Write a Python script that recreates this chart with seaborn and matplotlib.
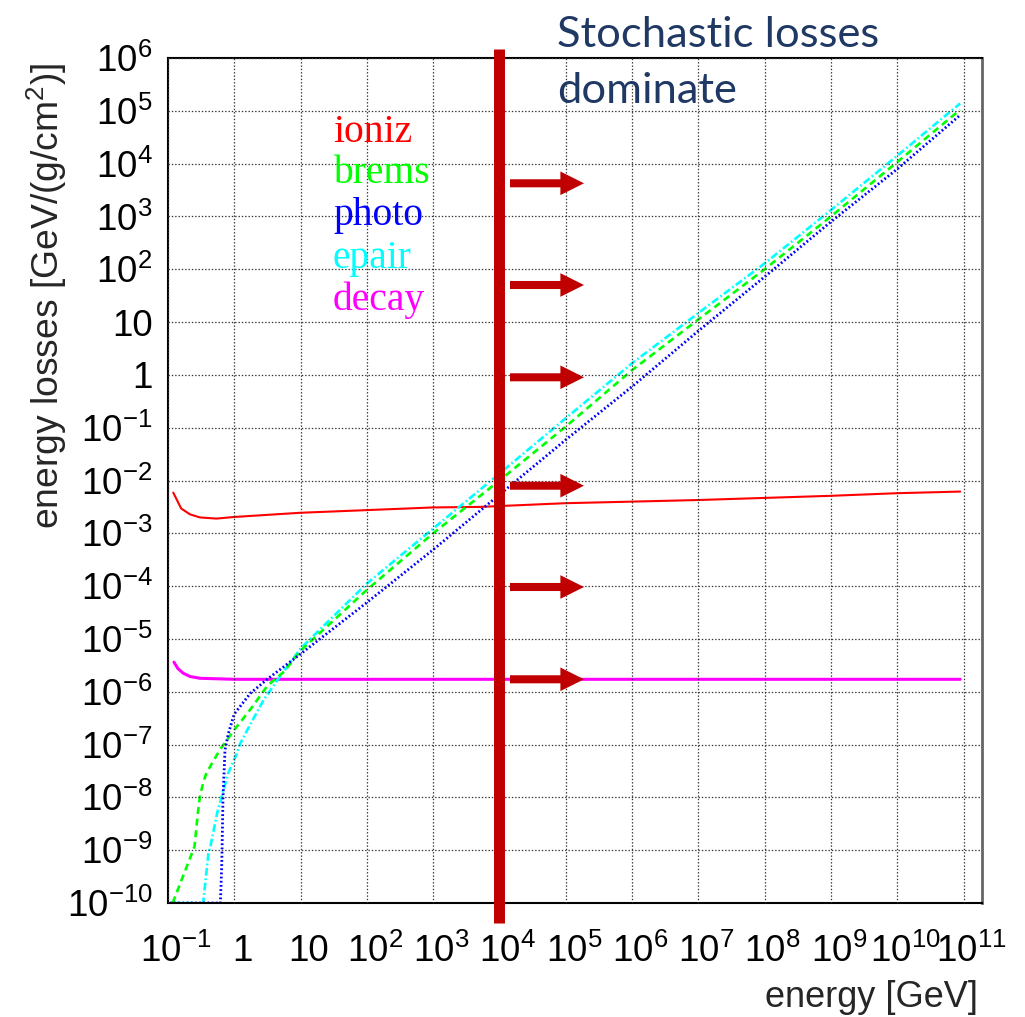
import matplotlib
matplotlib.use("Agg")
import matplotlib.pyplot as plt
import matplotlib.transforms as mtransforms
from matplotlib.ticker import FixedLocator, FixedFormatter, LogLocator, NullFormatter
import seaborn as sns
import pandas as pd

# ---------------- data ----------------
ioniz_energy = [0.12, 0.158, 0.214, 0.302, 0.537, 1, 10, 100, 1e3, 5e3, 1e5, 1e6, 1e7, 1e8, 1e9, 1e10, 8.9e10]
ioniz_loss = [5.9e-3, 2.95e-3, 2.29e-3, 2.0e-3, 1.9e-3, 2.04e-3, 2.45e-3, 2.75e-3, 3.09e-3, 3.16e-3,
              3.72e-3, 3.98e-3, 4.27e-3, 4.68e-3, 5.13e-3, 5.75e-3, 6.17e-3]

brems_energy = [0.1175, 0.251, 0.282, 0.302, 0.339, 0.38, 0.603, 1, 1.74, 3.16, 5.62, 10, 100, 1e3, 1e4,
                1e5, 1e6, 1e7, 1e8, 1e9, 1e10, 8.9e10]
brems_loss = [1e-10, 1.17e-9, 5.0e-9, 1.02e-8, 1.9e-8, 2.9e-8, 7.9e-8, 1.9e-7, 4.6e-7, 1.3e-6, 2.4e-6,
              6.0e-6, 8.5e-5, 1e-3, 1e-2, 0.105, 1.23, 11.2, 100, 1000, 1.07e4, 1.05e5]

photo_energy = [0.107, 0.617, 0.646, 0.676, 0.724, 0.813, 1, 1.74, 3.16, 5.62, 10, 100, 1e3, 1e4, 1e5,
                1e6, 1e7, 1e8, 1e9, 1e10, 8.9e10]
photo_loss = [1e-10, 1e-10, 5e-10, 1e-8, 7.9e-8, 1.62e-7, 3.8e-7, 9.3e-7, 1.74e-6, 3.0e-6, 5.2e-6, 4.9e-5,
              4.9e-4, 5.4e-3, 5.9e-2, 0.60, 6.8, 72, 794, 7.9e3, 8.3e4]

epair_energy = [0.112, 0.339, 0.407, 0.436, 0.55, 0.813, 1.1, 1.23, 1.74, 2.75, 4.47, 10, 100, 1e3, 1e4,
                1e5, 1e6, 1e7, 1e8, 1e9, 1e10, 8.9e10]
epair_loss = [1e-10, 1e-10, 8.7e-10, 1.17e-9, 5.0e-9, 2.9e-8, 6.9e-8, 1.05e-7, 2.4e-7, 6.9e-7, 1.66e-6,
              6.6e-6, 1.12e-4, 1.23e-3, 1.35e-2, 0.151, 1.66, 14.8, 129, 1.32e3, 1.41e4, 1.38e5]

decay_energy = [0.123, 0.141, 0.17, 0.214, 0.302, 1, 1e3, 1e6, 1e9, 8.9e10]
decay_loss = [3.63e-6, 2.75e-6, 2.24e-6, 1.95e-6, 1.80e-6, 1.72e-6, 1.72e-6, 1.72e-6, 1.72e-6, 1.72e-6]

series_names = ["ioniz", "brems", "photo", "epair", "decay"]
series_colors = ["#ff0000", "#00ff00", "#0000ff", "#00ffff", "#ff00ff"]

x_ticks = [1e-1, 1, 10, 1e2, 1e3, 1e4, 1e5, 1e6, 1e7, 1e8, 1e9, 1e10, 1e11]
x_tick_labels = [r"$10^{-1}$", "1", "10", r"$10^{2}$", r"$10^{3}$", r"$10^{4}$", r"$10^{5}$",
                 r"$10^{6}$", r"$10^{7}$", r"$10^{8}$", r"$10^{9}$", r"$10^{10}$", r"$10^{11}$"]
y_ticks = [1e-10, 1e-9, 1e-8, 1e-7, 1e-6, 1e-5, 1e-4, 1e-3, 1e-2, 1e-1, 1, 10, 1e2, 1e3, 1e4, 1e5, 1e6]
y_tick_labels = [r"$10^{-10}$", r"$10^{-9}$", r"$10^{-8}$", r"$10^{-7}$", r"$10^{-6}$", r"$10^{-5}$",
                 r"$10^{-4}$", r"$10^{-3}$", r"$10^{-2}$", r"$10^{-1}$", "1", "10", r"$10^{2}$",
                 r"$10^{3}$", r"$10^{4}$", r"$10^{5}$", r"$10^{6}$"]

x_label = "energy [GeV]"
y_label = r"energy losses [GeV/(g/cm$^{2}$)]"
note_lines = ["Stochastic losses", "dominate"]
separator_energy = 1e4

# ---------------- style ----------------
sns.set_style("white")
plt.rcParams.update({
    "font.family": ["Liberation Sans", "DejaVu Sans"],
    "mathtext.fontset": "custom",
    "mathtext.rm": "Liberation Sans",
    "mathtext.it": "Liberation Sans:italic",
    "mathtext.bf": "Liberation Sans:bold",
    "mathtext.default": "regular",
    "lines.scale_dashes": False,
    "axes.unicode_minus": False,
})

W, H = 1025, 1017
fig = plt.figure(figsize=(W / 100, H / 100), dpi=100)
L, R, T, B = 168, 982, 58, 903
ax = fig.add_axes([L / W, 1 - B / H, (R - L) / W, (B - T) / H])

frames = {
    "ioniz": (ioniz_energy, ioniz_loss),
    "brems": (brems_energy, brems_loss),
    "photo": (photo_energy, photo_loss),
    "epair": (epair_energy, epair_loss),
    "decay": (decay_energy, decay_loss),
}
styles = {
    "ioniz": dict(lw=1.5, linestyle="-"),
    "brems": dict(lw=1.9, linestyle=(0, (5.0, 3.4))),
    "photo": dict(lw=2.0, linestyle=(0, (1.3, 1.7))),
    "epair": dict(lw=1.9, linestyle=(0, (5.5, 2.0, 1.2, 2.0))),
    "decay": dict(lw=2.2, linestyle="-"),
}
draw_order = ["ioniz", "decay", "epair", "brems", "photo"]
for name in draw_order:
    e, v = frames[name]
    df = pd.DataFrame({"energy": e, "loss": v})
    color = series_colors[series_names.index(name)]
    sns.lineplot(data=df, x="energy", y="loss", ax=ax, color=color, sort=False,
                 estimator=None, **styles[name])

ax.set_xscale("log")
ax.set_yscale("log")
ax.set_xlim(0.1, 1.9e11)
ax.set_ylim(1e-10, 1e6)

ax.xaxis.set_major_locator(FixedLocator(x_ticks))
ax.xaxis.set_major_formatter(FixedFormatter(x_tick_labels))
ax.yaxis.set_major_locator(FixedLocator(y_ticks))
ax.yaxis.set_major_formatter(FixedFormatter(y_tick_labels))
ax.xaxis.set_minor_locator(LogLocator(base=10, subs=range(2, 10), numticks=100))
ax.yaxis.set_minor_locator(LogLocator(base=10, subs=range(2, 10), numticks=100))
ax.xaxis.set_minor_formatter(NullFormatter())
ax.yaxis.set_minor_formatter(NullFormatter())

ax.tick_params(which="both", direction="in", top=False, right=False, width=1.1, colors="black")
ax.tick_params(which="major", length=9.5)
ax.tick_params(which="minor", length=5)
ax.tick_params(axis="x", which="major", labelsize=26.5, pad=22)
ax.tick_params(axis="y", which="major", labelsize=26.5, pad=11)

ax.grid(True, which="major", color="#333333", lw=0.9, linestyle=(0, (1.0, 1.4)))
ax.set_axisbelow(False)
for s in ["left", "bottom", "top"]:
    ax.spines[s].set_linewidth(1.5)
    ax.spines[s].set_color("black")
ax.spines["right"].set_linewidth(2.0)
ax.spines["right"].set_color("#666666")

# shift x tick labels slightly right (ROOT-like placement)
offset = mtransforms.ScaledTranslation(8 / 100, 0, fig.dpi_scale_trans)
for lab in ax.get_xticklabels():
    lab.set_transform(lab.get_transform() + offset)

ax.set_xlabel(x_label, loc="right", fontsize=26)
ax.xaxis.set_label_coords(0.995, -0.091)
ax.set_ylabel(y_label, loc="top", fontsize=26.8)
ax.yaxis.set_label_coords(-0.1216, 0.995)

# legend: coloured names only
legend_baselines = [142, 183, 225, 268, 310]
for name, yb in zip(series_names, legend_baselines):
    fig.text(333 / W, 1 - yb / H, name, color=series_colors[series_names.index(name)],
             fontsize=28.5, family=["Liberation Serif", "DejaVu Serif"], va="baseline", ha="left")

# thick separator at 10^4 GeV
ax.axvline(separator_energy, ymin=(B - 923) / (B - T), ymax=(B - 49) / (B - T), color="#C00000",
           lw=7.9, clip_on=False, solid_capstyle="butt", zorder=6)

# arrows
arrow_rows_px = [183.3, 285, 377.3, 485.7, 587, 679.3]
x0 = (510 - L) / (R - L)
x1 = (584 - L) / (R - L)
for yp in arrow_rows_px:
    yf = (B - yp) / (B - T)
    ax.annotate("", xy=(x1, yf), xytext=(x0, yf), xycoords="axes fraction", textcoords="axes fraction",
                annotation_clip=False, zorder=7,
                arrowprops=dict(arrowstyle="simple,head_length=17,head_width=17,tail_width=5.8",
                                mutation_scale=1, color="#C00000", lw=0, shrinkA=0, shrinkB=0))

# note text
for line, yb in zip(note_lines, [46.7, 103.3]):
    fig.text(557 / W, 1 - yb / H, line, color="#1F3864", fontsize=31.3, family=["Lato", "DejaVu Sans"],
             va="baseline", ha="left")

fig.savefig("out.png", dpi=100)
